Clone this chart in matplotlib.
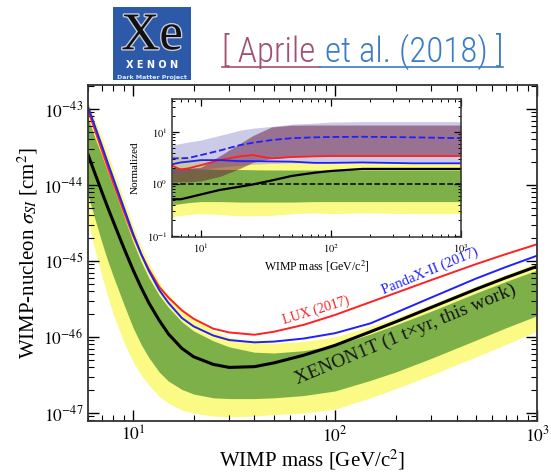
import numpy as np
import matplotlib
matplotlib.use("Agg")
import matplotlib.pyplot as plt
from matplotlib import font_manager
from matplotlib.lines import Line2D
from matplotlib.patches import Rectangle
import matplotlib.patheffects as pe

# main plot: WIMP mass [GeV/c^2] and log10 of cross section [cm^2]
mass = [6, 6.5, 7, 7.5, 8, 9, 10, 11, 12, 13.5, 15, 17.5, 20, 25, 30, 40, 50, 70, 100,
        150, 200, 300, 500, 700, 1000]
xenon1t_log = [-43.60, -43.85, -44.08, -44.29, -44.48, -44.82, -45.11, -45.35, -45.55, -45.78,
               -45.96, -46.15, -46.26, -46.36, -46.40, -46.39, -46.34, -46.24, -46.11,
               -45.93, -45.80, -45.61, -45.37, -45.22, -45.07]
lux_log = [-43.01, -43.28, -43.53, -43.76, -43.97, -44.34, -44.66, -44.91, -45.11, -45.34,
           -45.48, -45.65, -45.76, -45.89, -45.94, -45.97, -45.93, -45.84, -45.71,
           -45.54, -45.42, -45.25, -45.04, -44.91, -44.78]
pandax_log = [-42.97, -43.23, -43.47, -43.70, -43.91, -44.29, -44.63, -44.91, -45.13, -45.38,
              -45.55, -45.75, -45.86, -45.98, -46.04, -46.07, -46.06, -46.02, -45.95,
              -45.82, -45.68, -45.48, -45.23, -45.08, -44.93]
sig1_hi_log = [-43.12, -43.38, -43.60, -43.82, -44.02, -44.40, -44.74, -45.01, -45.22, -45.45,
               -45.61, -45.80, -45.92, -46.05, -46.13, -46.20, -46.21, -46.18, -46.11,
               -45.96, -45.84, -45.66, -45.42, -45.27, -45.12]
sig1_lo_log = [-44.13, -44.45, -44.74, -44.99, -45.20, -45.56, -45.87, -46.10, -46.27, -46.46,
               -46.58, -46.69, -46.75, -46.80, -46.81, -46.81, -46.80, -46.77, -46.71,
               -46.57, -46.46, -46.28, -46.04, -45.88, -45.72]
sig2_hi_log = [-42.90, -43.14, -43.36, -43.58, -43.79, -44.18, -44.53, -44.81, -45.03, -45.28,
               -45.45, -45.63, -45.76, -45.92, -46.00, -46.07, -46.08, -46.06, -46.00,
               -45.86, -45.75, -45.57, -45.33, -45.18, -45.02]
sig2_lo_log = [-44.48, -44.85, -45.18, -45.46, -45.70, -46.06, -46.32, -46.50, -46.63, -46.78,
               -46.87, -46.96, -47.00, -47.04, -47.05, -47.04, -47.02, -47.00, -46.95,
               -46.80, -46.68, -46.50, -46.26, -46.10, -45.92]

# inset: limits normalized to the XENON1T median sensitivity
mass_in = [6, 7, 8, 10, 14, 20, 25, 35, 50, 75, 100, 175, 420, 1000]
norm_obs = [0.51, 0.51, 0.55, 0.63, 0.77, 0.89, 0.98, 1.17, 1.43, 1.65, 1.78, 1.95, 1.95, 1.95]
norm_lux = [2.25, 1.9, 2.0, 2.3, 2.9, 3.4, 3.6, 3.1, 3.3, 3.4, 3.45, 3.45, 3.45, 3.45]
norm_pandax = [2.39, 2.6, 2.69, 2.88, 2.88, 2.75, 2.75, 2.72, 2.69, 2.55, 2.55, 2.6, 2.5, 2.5]
norm_pandax_dash = [3.1, 3.12, 3.16, 3.6, 4.4, 5.6, 6.2, 7.0, 7.6, 7.9, 8.0, 8.1, 7.9, 7.6]
band1_hi = [2.1, 2.05, 2.0, 1.95, 1.9, 1.9, 1.88, 1.86, 1.86, 1.86, 1.86, 1.86, 1.86, 1.86]
band1_lo = [0.40, 0.42, 0.44, 0.46, 0.46, 0.45, 0.45, 0.45, 0.45, 0.46, 0.46, 0.46, 0.46, 0.46]
band2_hi = [3.6, 3.4, 3.2, 2.9, 2.8, 2.7, 2.65, 2.6, 2.6, 2.6, 2.55, 2.55, 2.55, 2.55]
band2_lo = [0.235, 0.25, 0.26, 0.27, 0.26, 0.245, 0.245, 0.25, 0.27, 0.28, 0.27, 0.28, 0.27, 0.27]
pandax_band_hi = [5.6, 6.0, 6.4, 7.0, 8.6, 10.8, 11.8, 12.8, 14.1, 14.8, 15.5, 15.8, 15.8, 15.8]
pandax_band_lo = [1.5, 1.6, 1.7, 1.9, 2.1, 2.3, 2.4, 2.5, 2.55, 2.55, 2.55, 2.55, 2.55, 2.55]
lux_band_hi = [2.0, 2.0, 2.0, 2.1, 3.5, 6.0, 8.5, 12.5, 13.5, 13.6, 13.6, 13.6, 13.6, 13.6]
lux_band_lo = [1.1, 1.1, 1.1, 1.15, 1.4, 2.0, 2.6, 3.1, 3.3, 3.4, 3.45, 3.45, 3.45, 3.45]

YELLOW = "#fafa84"
GREEN = "#7eb04a"
RED = "#ff2020"
BLUE = "#1f1fff"

plt.rcParams["font.family"] = "Liberation Serif"
plt.rcParams["mathtext.fontset"] = "stix"

W, H = 551, 476
fig = plt.figure(figsize=(W / 100, H / 100), dpi=100)


def fx(px):
    return px / W


def fy(py):
    return 1 - py / H


# %% main axes
ax = fig.add_axes([fx(88), fy(421), fx(537) - fx(88), fy(85) - fy(421)])
m = np.array(mass)
ax.fill_between(m, 10 ** np.array(sig2_lo_log), 10 ** np.array(sig2_hi_log), color=YELLOW, lw=0)
ax.fill_between(m, 10 ** np.array(sig1_lo_log), 10 ** np.array(sig1_hi_log), color=GREEN, lw=0)
ax.plot(m, 10 ** np.array(lux_log), color=RED, lw=1.4)
ax.plot(m, 10 ** np.array(pandax_log), color=BLUE, lw=1.4)
ax.plot(m, 10 ** np.array(xenon1t_log), color="k", lw=2.2)
ax.set_xscale("log")
ax.set_yscale("log")
ax.set_xlim(6, 1000)
ax.set_ylim(10 ** -47.105, 10 ** -42.684)
ax.set_xticks([10, 100, 1000])
ax.set_xticklabels(["$10^{1}$", "$10^{2}$", "$10^{3}$"])
ax.set_yticks([1e-47, 1e-46, 1e-45, 1e-44, 1e-43])
ax.set_yticklabels(["$10^{-47}$", "$10^{-46}$", "$10^{-45}$", "$10^{-44}$", "$10^{-43}$"])
ax.tick_params(which="both", direction="in", top=True, right=True, labelsize=12.5)
ax.tick_params(which="major", length=8, width=1.0)
ax.tick_params(which="minor", length=4, width=0.8)
for s in ax.spines.values():
    s.set_linewidth(1.3)
    s.set_color("#333333")
ax.set_xlabel("WIMP mass [GeV/c$^2$]", fontsize=15)
ax.set_ylabel(r"WIMP-nucleon $\sigma_{SI}$ [cm$^2$]", fontsize=15)
ax.xaxis.set_label_coords(0.5, -0.078)
ax.yaxis.set_label_coords(-0.107, 0.5)

ax.text(0.509, 0.328, "LUX (2017)", transform=ax.transAxes, color=RED, fontsize=10,
        rotation=17, ha="center", va="center")
ax.text(0.762, 0.445, "PandaX-II (2017)", transform=ax.transAxes, color=BLUE, fontsize=10.5,
        rotation=22.5, ha="center", va="center")
ax.text(0.708, 0.256, "XENON1T (1 t\u00d7yr, this work)", transform=ax.transAxes,
        color="#151515", fontsize=14, rotation=22.5, ha="center", va="center")

# %% inset
ax_in = fig.add_axes([fx(172), fy(237), fx(461) - fx(172), fy(99) - fy(237)])
mi = np.array(mass_in)
ax_in.fill_between(mi, band2_lo, band2_hi, color=YELLOW, lw=0)
ax_in.fill_between(mi, band1_lo, band1_hi, color=GREEN, lw=0)
ax_in.fill_between(mi, pandax_band_lo, pandax_band_hi, color=(0.55, 0.55, 0.8), alpha=0.45, lw=0)
ax_in.fill_between(mi, lux_band_lo, lux_band_hi, color=(0.42, 0.1, 0.23), alpha=0.5, lw=0)
ax_in.axhline(1.0, color="k", ls="--", lw=1.1)
ax_in.plot(mi, norm_pandax_dash, color=BLUE, ls="--", lw=1.3)
ax_in.plot(mi, norm_lux, color=RED, lw=1.3)
ax_in.plot(mi, norm_pandax, color=BLUE, lw=1.3)
ax_in.plot(mi, norm_obs, color="k", lw=1.6)
ax_in.set_xscale("log")
ax_in.set_yscale("log")
ax_in.set_xlim(6, 1000)
ax_in.set_ylim(0.096, 43)
ax_in.set_xticks([10, 100, 1000])
ax_in.set_xticklabels(["$10^{1}$", "$10^{2}$", "$10^{3}$"])
ax_in.set_yticks([0.1, 1, 10])
ax_in.set_yticklabels(["$10^{-1}$", "$10^{0}$", "$10^{1}$"])
ax_in.tick_params(which="both", direction="in", top=True, right=True, labelsize=7.5)
ax_in.tick_params(which="major", length=5, width=0.9)
ax_in.tick_params(which="minor", length=2.5, width=0.7)
for s in ax_in.spines.values():
    s.set_linewidth(1.1)
    s.set_color("#333333")
ax_in.set_xlabel("WIMP mass [GeV/c$^2$]", fontsize=8.5, labelpad=2)
ax_in.set_ylabel("Normalized", fontsize=8, labelpad=5)

# %% XENON logo
ax_logo = fig.add_axes([fx(113), fy(80), fx(191) - fx(113), fy(7) - fy(80)])
ax_logo.set_xlim(0, 1)
ax_logo.set_ylim(0, 1)
ax_logo.axis("off")
ax_logo.add_patch(Rectangle((0, 0), 1, 1, color="#2d5aa8", transform=ax_logo.transAxes))
ax_logo.text(0.5, 0.6, "Xe", fontsize=38, ha="center", va="center", color="#111111",
             path_effects=[pe.withStroke(linewidth=2, foreground="#c8c8d8")])
ax_logo.text(0.5, 0.2, "X E N O N", fontsize=7, ha="center", va="center", color="white",
             weight="bold", family="DejaVu Sans")
ax_logo.text(0.5, 0.03, "Dark Matter Project", fontsize=4.5, ha="center", va="center",
             color="#dde6f5", weight="bold", family="DejaVu Sans")

# %% reference title
available = {f.name for f in font_manager.fontManager.ttflist}
fam = "Roboto"
for cand in ["Roboto Condensed", "Liberation Sans Narrow", "Open Sans Condensed"]:
    if cand in available:
        fam = cand
        break
renderer = fig.canvas.get_renderer()
probe = fig.text(0, 0, "[ Aprile et al. (2018) ]", fontsize=10, family=fam, weight="light")
w10 = probe.get_window_extent(renderer).width
probe.remove()
fs = min(27, 10 * 280 / w10)
t1 = fig.text(fx(222), fy(62), "[ Aprile", fontsize=fs, family=fam, weight="light",
              color="#a05070")
b1 = t1.get_window_extent(renderer)
gap = (328 - 318) * fs / 27
t2 = fig.text(fx(b1.x1 + gap), fy(62), "et al. (2018) ]", fontsize=fs, family=fam,
              weight="light", color="#3c7cc4")
b2 = t2.get_window_extent(renderer)
fig.add_artist(Line2D([fx(b1.x0), fx(b1.x1 + gap / 2)], [fy(67), fy(67)], color="#a05070", lw=1.2))
fig.add_artist(Line2D([fx(b1.x1 + gap / 2), fx(b2.x1)], [fy(67), fy(67)], color="#3c7cc4", lw=1.2))

fig.savefig("out.png", dpi=100)
